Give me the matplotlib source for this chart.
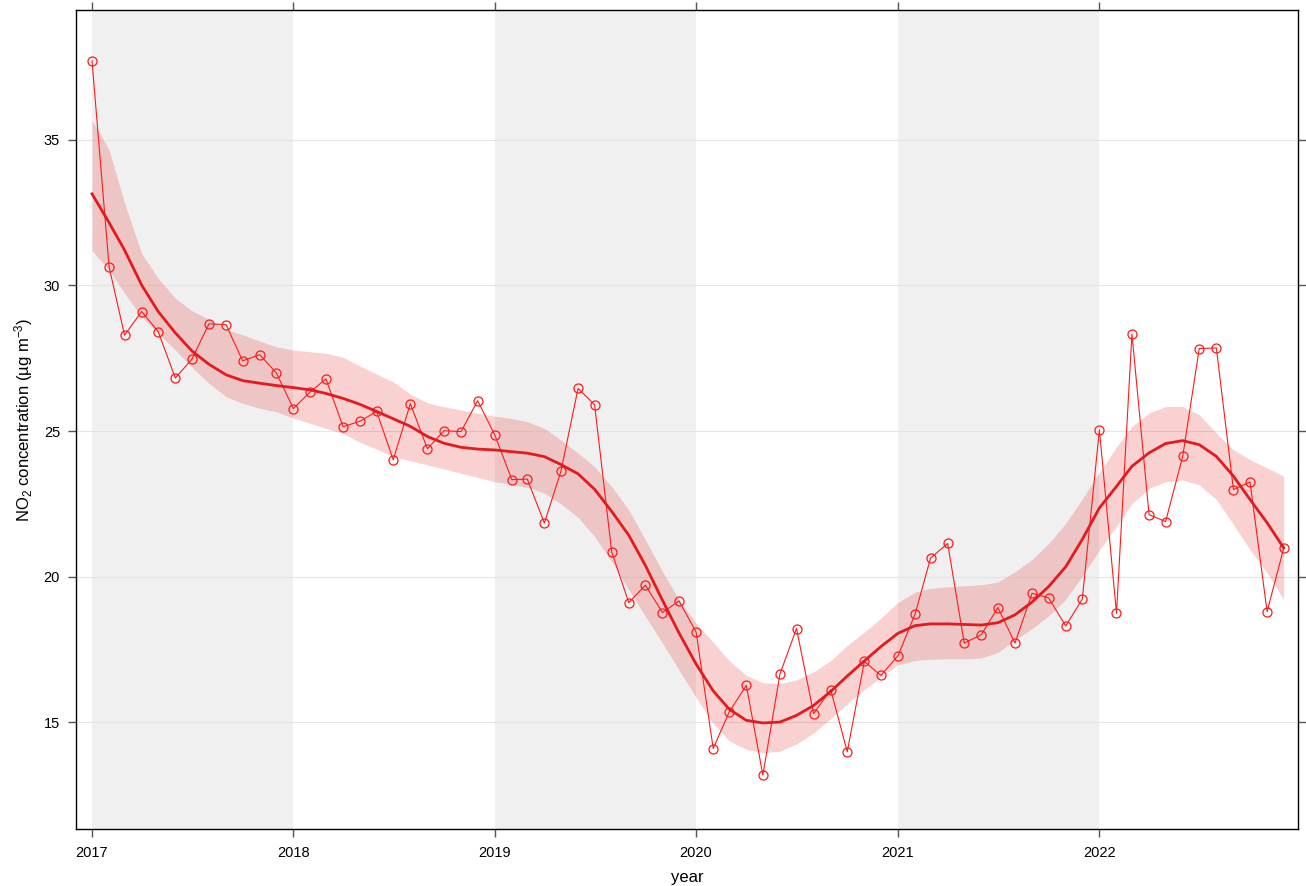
import matplotlib
matplotlib.use("Agg")
import matplotlib.pyplot as plt
import matplotlib.dates as mdates
import pandas as pd

plt.rcParams["font.family"] = ["Liberation Sans", "DejaVu Sans"]
plt.rcParams["mathtext.fontset"] = "custom"
plt.rcParams["mathtext.rm"] = "Liberation Sans"
plt.rcParams["mathtext.it"] = "Liberation Sans:italic"

# monthly means, Jan 2017 .. Dec 2022
start_month = "2017-01-01"
n_months = 72

no2_monthly = [
    37.71, 30.63, 28.29, 29.10, 28.41, 26.82, 27.46, 28.68, 28.65, 27.41, 27.62, 27.00,
    25.77, 26.35, 26.79, 25.15, 25.33, 25.67, 24.01, 25.94, 24.39, 25.01, 24.98, 26.04,
    24.87, 23.33, 23.35, 21.84, 23.62, 26.46, 25.90, 20.85, 19.11, 19.71, 18.77, 19.17,
    18.10, 14.10, 15.36, 16.27, 13.19, 16.66, 18.22, 15.30, 16.12, 13.99, 17.09, 16.61,
    17.29, 18.72, 20.64, 21.14, 17.72, 18.01, 18.94, 17.72, 19.43, 19.27, 18.31, 19.23,
    25.04, 18.74, 28.33, 22.13, 21.89, 24.13, 27.83, 27.85, 22.99, 23.25, 18.80, 20.97,
]

trend = [
    33.14, 32.15, 31.21, 30.01, 29.10, 28.37, 27.75, 27.29, 26.93, 26.73, 26.64, 26.56,
    26.49, 26.41, 26.29, 26.12, 25.92, 25.67, 25.42, 25.16, 24.81, 24.58, 24.44, 24.38,
    24.35, 24.29, 24.24, 24.12, 23.85, 23.53, 23.00, 22.24, 21.42, 20.39, 19.19, 18.07,
    17.00, 16.08, 15.45, 15.07, 14.98, 15.01, 15.24, 15.58, 16.06, 16.59, 17.11, 17.60,
    18.06, 18.32, 18.38, 18.38, 18.36, 18.34, 18.42, 18.69, 19.13, 19.66, 20.34, 21.28,
    22.36, 23.10, 23.79, 24.25, 24.57, 24.67, 24.53, 24.13, 23.45, 22.65, 21.85, 20.99,
]

trend_upper = [
    35.67, 34.65, 32.82, 31.10, 30.24, 29.56, 29.13, 28.83, 28.49, 28.30, 28.09, 27.89,
    27.78, 27.72, 27.67, 27.53, 27.24, 26.95, 26.69, 26.26, 25.97, 25.83, 25.72, 25.61,
    25.51, 25.43, 25.32, 25.09, 24.69, 24.24, 23.78, 23.09, 22.29, 21.27, 20.18, 19.21,
    18.40, 17.75, 17.12, 16.61, 16.36, 16.33, 16.46, 16.73, 17.12, 17.64, 18.10, 18.58,
    19.12, 19.47, 19.60, 19.65, 19.69, 19.72, 19.82, 20.17, 20.59, 21.14, 21.83, 22.67,
    23.58, 24.45, 25.16, 25.62, 25.84, 25.84, 25.56, 24.93, 24.36, 24.02, 23.73, 23.45,
]

trend_lower = [
    31.19, 30.53, 29.73, 28.92, 28.35, 27.78, 27.19, 26.64, 26.18, 25.95, 25.78, 25.66,
    25.44, 25.26, 25.09, 24.92, 24.62, 24.38, 24.12, 23.98, 23.84, 23.70, 23.55, 23.41,
    23.26, 23.17, 23.07, 22.87, 22.50, 22.04, 21.38, 20.52, 19.55, 18.64, 17.72, 16.80,
    15.85, 14.96, 14.36, 14.07, 13.96, 14.01, 14.26, 14.64, 15.13, 15.64, 16.13, 16.55,
    16.98, 17.12, 17.17, 17.18, 17.18, 17.21, 17.40, 17.83, 18.22, 18.65, 19.22, 20.02,
    20.91, 21.73, 22.51, 23.03, 23.26, 23.32, 23.15, 22.65, 21.79, 20.93, 20.13, 19.22,
]

shaded_years = [2017, 2019, 2021]
tick_years = [2017, 2018, 2019, 2020, 2021, 2022]
y_ticks = [15, 20, 25, 30, 35]

dates = pd.date_range(start_month, periods=n_months, freq="MS")

fig = plt.figure(figsize=(13.06, 8.86), dpi=100)
ax = fig.add_axes([76 / 1306, 1 - 829 / 886, (1298 - 76) / 1306, (829 - 10) / 886])

for yr in shaded_years:
    ax.axvspan(pd.Timestamp(f"{yr}-01-01"), pd.Timestamp(f"{yr + 1}-01-01"),
               color="#f0f0f0", lw=0, zorder=0)

for yv in y_ticks:
    ax.axhline(yv, color="#e4e4e4", lw=0.8, zorder=1)

ax.fill_between(dates, trend_lower, trend_upper, color="#e41a1c", alpha=0.2,
                lw=0, zorder=2)
ax.plot(dates, no2_monthly, color="#ff1a1a", lw=0.8, marker="o", ms=6.5,
        mfc="none", mec="#ff1a1a", mew=0.9, zorder=3)
ax.plot(dates, trend, color="#e41a1c", lw=2.0, zorder=4)

ax.set_xlim(pd.Timestamp("2016-12-03"), pd.Timestamp("2022-12-27"))
ax.set_ylim(11.34, 39.45)

ax.set_xticks([pd.Timestamp(f"{y}-01-01") for y in tick_years])
ax.xaxis.set_major_formatter(mdates.DateFormatter("%Y"))
ax.set_yticks(y_ticks)

ax.tick_params(axis="both", direction="out", length=5.5, width=1.0, color="#555555",
               top=True, right=True, labeltop=False, labelright=False)
ax.tick_params(axis="x", pad=7)
ax.tick_params(axis="y", pad=6)
for lab in ax.get_xticklabels() + ax.get_yticklabels():
    lab.set_family(["Liberation Sans Narrow", "Liberation Sans"])
    lab.set_fontsize(10.5)
for s in ax.spines.values():
    s.set_linewidth(1.0)

ax.set_xlabel("year", fontsize=12, labelpad=7)
ax.set_ylabel("NO$_2$ concentration (µg m$^{-3}$)", fontsize=12, labelpad=6)

fig.savefig("out.png", dpi=100)
